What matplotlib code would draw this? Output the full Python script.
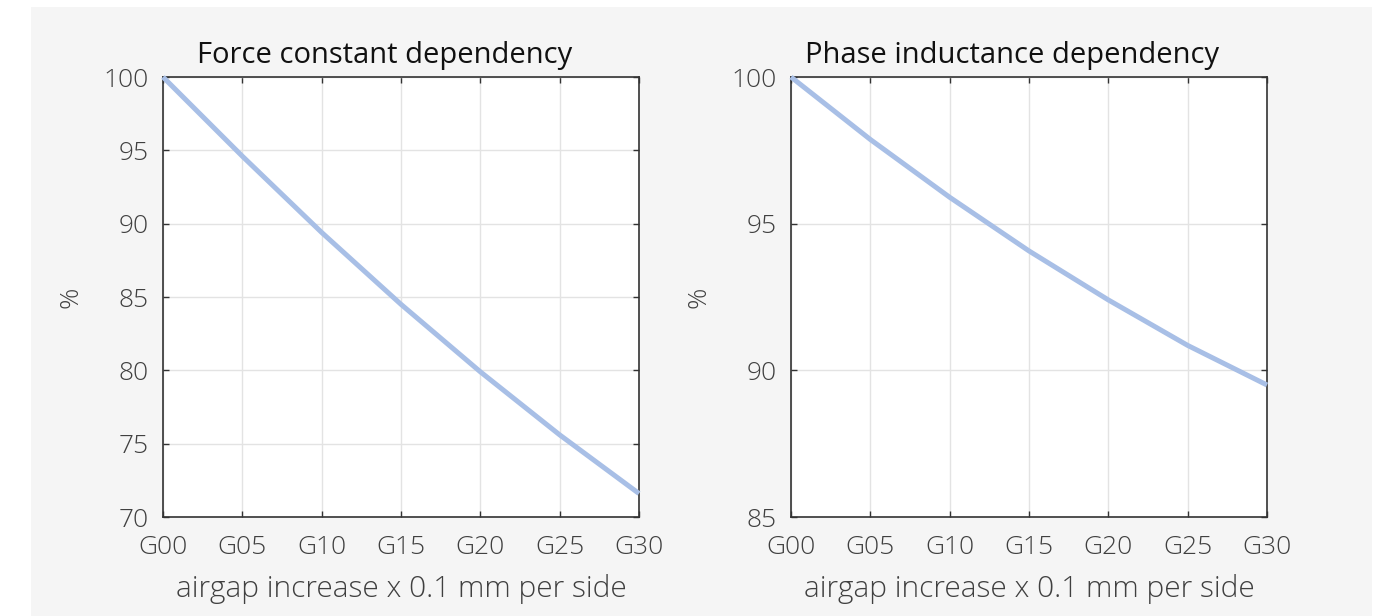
import numpy as np
import matplotlib.pyplot as plt
from matplotlib.patches import Rectangle

# airgap steps G00..G30
gap_labels = ['G00', 'G05', 'G10', 'G15', 'G20', 'G25', 'G30']
gap_steps = [0, 5, 10, 15, 20, 25, 30]

# (percent of nominal)
force_constant = [100.0, 94.6, 89.4, 84.5, 79.9, 75.6, 71.6]
phase_inductance = [100.0, 97.87, 95.9, 94.07, 92.4, 90.85, 89.5]

force_yticks = [70, 75, 80, 85, 90, 95, 100]
induct_yticks = [85, 90, 95, 100]

LINE_COLOR = '#a8bfe6'
TEXT_COLOR = '#404040'
FONT = ['Open Sans', 'DejaVu Sans']

plt.rcParams['font.family'] = FONT

W, H = 1391, 616
fig = plt.figure(figsize=(W / 100, H / 100), dpi=100, facecolor='white')

# light grey panel behind the plots
fig.patches.append(Rectangle((31 / W, 0), (1372 - 31) / W, (H - 7) / H,
                             transform=fig.transFigure, facecolor='#f5f5f5',
                             edgecolor='none', zorder=-10))


def draw_panel(left_px, values, yticks, title):
    ax = fig.add_axes([left_px / W, (H - 517) / H, 476 / W, 440 / H])
    ax.set_facecolor('white')
    ax.plot(gap_steps, values, color=LINE_COLOR, lw=3.6, solid_capstyle='butt',
            clip_on=False, zorder=3)
    ax.set_xlim(gap_steps[0], gap_steps[-1])
    ax.set_ylim(yticks[0], yticks[-1])
    ax.set_xticks(gap_steps)
    ax.set_xticklabels(gap_labels)
    ax.set_yticks(yticks)
    ax.grid(True, color='#e3e3e3', lw=1.0)
    ax.set_axisbelow(True)
    for sp in ax.spines.values():
        sp.set_color('#333333')
        sp.set_linewidth(1.2)
    ax.tick_params(direction='in', length=4, width=1, color='#333333',
                   top=True, right=True, labelsize=19, labelcolor=TEXT_COLOR)
    ax.tick_params(axis='x', pad=13)
    ax.tick_params(axis='y', pad=10)
    for lab in ax.get_xticklabels() + ax.get_yticklabels():
        lab.set_fontweight('light')
    ax.set_title(title, fontsize=21, color='#111111', x=0.465, pad=10)
    ax.set_xlabel('airgap increase x 0.1 mm per side', fontsize=21.5,
                  color=TEXT_COLOR, fontweight='light', labelpad=10)
    ax.set_ylabel('%', fontsize=19, color=TEXT_COLOR, fontweight='light',
                  labelpad=15)
    return ax


draw_panel(163, force_constant, force_yticks, 'Force constant dependency')
draw_panel(791, phase_inductance, induct_yticks, 'Phase inductance dependency')

fig.savefig('out.png', dpi=100, facecolor=fig.get_facecolor())
